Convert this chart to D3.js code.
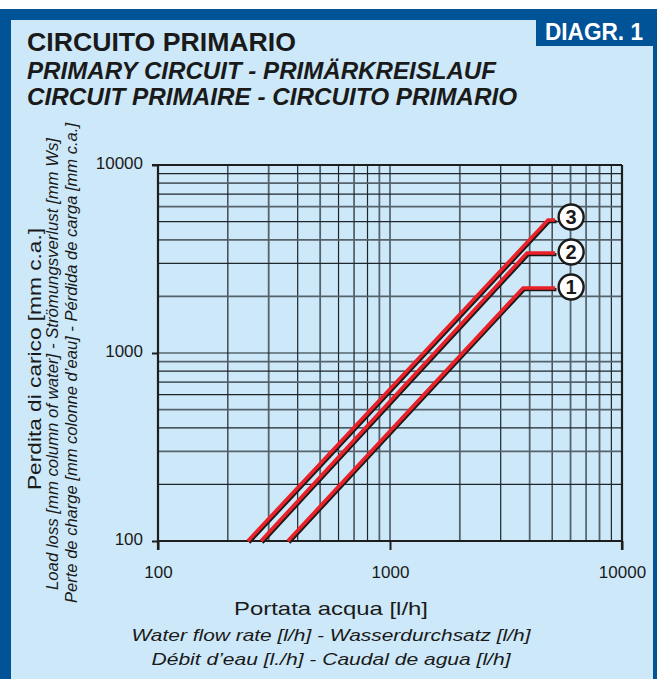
<!DOCTYPE html>
<html>
<head>
<meta charset="utf-8">
<script src="https://cdn.jsdelivr.net/npm/d3@7"></script>
<style>
  html, body { margin: 0; padding: 0; background: #ffffff; }
  svg { display: block; }
  text { font-family: "Liberation Sans", Arial, Helvetica, sans-serif; fill: #1a1a1a; }
</style>
</head>
<body>
<svg id="chart" width="657" height="679"></svg>
<script>
// ---------- data ----------
const titleLines = [
  "CIRCUITO PRIMARIO",
  "PRIMARY CIRCUIT - PRIMÄRKREISLAUF",
  "CIRCUIT PRIMAIRE - CIRCUITO PRIMARIO"
];
const diagramLabel = "DIAGR. 1";
const yTitleLines = [
  "Perdita di carico [mm c.a.]",
  "Load loss [mm column of water] - Strömungsverlust [mm Ws]",
  "Perte de charge [mm colonne d’eau] - Pérdida de carga [mm c.a.]"
];
const xTitleLines = [
  "Portata acqua [l/h]",
  "Water flow rate [l/h] - Wasserdurchsatz [l/h]",
  "Débit d’eau [l./h] - Caudal de agua [l/h]"
];
const xTickLabels = [100, 1000, 10000];
const yTickLabels = [100, 1000, 10000];
const seriesNames = ["1", "2", "3"];
// flow rate [l/h] and load loss [mm c.a.] of each curve
const flow1 = [363, 3745, 5150];
const loss1 = [100, 2218, 2218];
const flow2 = [278, 3896, 5150];
const loss2 = [100, 3404, 3404];
const flow3 = [244, 4798, 5150];
const loss3 = [100, 5097, 5097];

const series = [
  { name: seriesNames[0], pts: flow1.map((f, i) => [f, loss1[i]]) },
  { name: seriesNames[1], pts: flow2.map((f, i) => [f, loss2[i]]) },
  { name: seriesNames[2], pts: flow3.map((f, i) => [f, loss3[i]]) }
];

// ---------- layout ----------
const W = 657, H = 679;
const svg = d3.select("#chart");
const blue = "#005396", light = "#cde9f9";

svg.append("rect").attr("x", 0).attr("y", 9).attr("width", W).attr("height", H - 9).attr("fill", blue);
svg.append("rect").attr("x", 11).attr("y", 20).attr("width", 642).attr("height", H - 20).attr("fill", light);
svg.append("rect").attr("x", 536).attr("y", 9).attr("width", W - 536).attr("height", 37).attr("fill", blue);
svg.append("text").text(diagramLabel)
  .attr("x", 545).attr("y", 39.5)
  .attr("font-size", 23).attr("font-weight", "bold")
  .attr("textLength", 98).attr("lengthAdjust", "spacingAndGlyphs")
  .style("fill", "#ffffff");

// titles
const titleY = [51, 79, 105];
const titleW = [269, 469, 490];
titleLines.forEach((t, i) => {
  svg.append("text").text(t)
    .attr("x", 27).attr("y", titleY[i])
    .attr("font-size", i === 0 ? 25 : 23)
    .attr("font-weight", "bold")
    .attr("font-style", i === 0 ? "normal" : "italic")
    .attr("textLength", titleW[i]).attr("lengthAdjust", "spacingAndGlyphs");
});

// scales
const x = d3.scaleLog().domain([100, 10000]).range([158, 622]);
const y = d3.scaleLog().domain([100, 10000]).range([541, 165]);

// grid
const gridX = x.ticks();
const gridY = y.ticks();
const g = svg.append("g");
g.selectAll("line.gx").data(gridX).join("line")
  .attr("class", "gx")
  .attr("x1", d => x(d)).attr("x2", d => x(d))
  .attr("y1", y(10000)).attr("y2", y(100))
  .attr("stroke", (d, i) => i % 2 ? "#1f262b" : "#56626b")
  .attr("stroke-width", (d, i) => i % 2 ? 1.2 : 1.8);
g.selectAll("line.gy").data(gridY).join("line")
  .attr("class", "gy")
  .attr("y1", d => y(d)).attr("y2", d => y(d))
  .attr("x1", x(100)).attr("x2", x(10000))
  .attr("stroke", (d, i) => i % 2 ? "#1f262b" : "#56626b")
  .attr("stroke-width", (d, i) => i % 2 ? 1.2 : 1.8);

// axes
const axisColor = "#1e1e1e";
const xAxis = d3.axisBottom(x).tickValues(xTickLabels).tickSize(9).tickPadding(16)
  .tickFormat(d3.format("d"));
const gx = svg.append("g").attr("transform", `translate(0,${y(100)})`).call(xAxis);
gx.select(".domain").remove();
gx.selectAll(".tick line").attr("stroke", axisColor).attr("stroke-width", 2);
gx.selectAll(".tick text").attr("font-size", 17).style("fill", "#1a1a1a")
  .attr("font-family", "'Liberation Sans', Arial, sans-serif");

const yAxis = d3.axisLeft(y).tickValues(yTickLabels).tickSize(6).tickPadding(9)
  .tickFormat(d3.format("d"));
const gy = svg.append("g").attr("transform", `translate(${x(100)},0)`).call(yAxis);
gy.select(".domain").remove();
gy.selectAll(".tick line").attr("stroke", axisColor).attr("stroke-width", 2);
gy.selectAll(".tick text").attr("font-size", 17).attr("dy", "0.2em").style("fill", "#1a1a1a")
  .attr("font-family", "'Liberation Sans', Arial, sans-serif");

// frame lines
svg.append("line").attr("x1", x(100)).attr("x2", x(100)).attr("y1", y(10000)).attr("y2", y(100) + 9)
  .attr("stroke", axisColor).attr("stroke-width", 2.2);
svg.append("line").attr("x1", x(10000)).attr("x2", x(10000)).attr("y1", y(10000)).attr("y2", y(100) + 9)
  .attr("stroke", axisColor).attr("stroke-width", 2.2);
svg.append("line").attr("x1", x(100)).attr("x2", x(10000)).attr("y1", y(100)).attr("y2", y(100))
  .attr("stroke", axisColor).attr("stroke-width", 2.2);
svg.append("line").attr("x1", x(100) - 6).attr("x2", x(10000)).attr("y1", y(10000)).attr("y2", y(10000))
  .attr("stroke", axisColor).attr("stroke-width", 2.2);

// curves
const line = d3.line().x(d => x(d[0])).y(d => y(d[1]));
const cg = svg.append("g");
series.forEach(s => {
  cg.append("path").attr("d", line(s.pts)).attr("fill", "none")
    .attr("stroke", "#1a1a1a").attr("stroke-width", 3.2)
    .attr("transform", "translate(1.3,1.6)");
  cg.append("path").attr("d", line(s.pts)).attr("fill", "none")
    .attr("stroke", "#ea2128").attr("stroke-width", 3.6);
});

// labels
series.forEach((s, i) => {
  const last = s.pts[s.pts.length - 1];
  const cx = x(last[0]) + 16, cy = y(last[1]) - (i === 2 ? 3 : 1);
  svg.append("circle").attr("cx", cx).attr("cy", cy).attr("r", 12.5)
    .attr("fill", "#ffffff").attr("stroke", "#1a1a1a").attr("stroke-width", 2.4);
  svg.append("text").text(s.name).attr("x", cx).attr("y", cy + 7)
    .attr("text-anchor", "middle").attr("font-size", 20).attr("font-weight", "bold");
});

// y titles (rotated)
const yTitleX = [41, 58, 77];
const yTitleC = [359, 364, 363];
const yTitleL = [262, 452, 480];
yTitleLines.forEach((t, i) => {
  svg.append("text").text(t)
    .attr("transform", `translate(${yTitleX[i]},${yTitleC[i]}) rotate(-90)`)
    .attr("text-anchor", "middle")
    .attr("font-size", i === 0 ? 19 : 16)
    .attr("font-style", i === 0 ? "normal" : "italic")
    .attr("textLength", yTitleL[i]).attr("lengthAdjust", "spacingAndGlyphs");
});

// x titles
const xTitleY = [615, 641, 665];
const xTitleL = [194, 399, 359];
xTitleLines.forEach((t, i) => {
  svg.append("text").text(t)
    .attr("x", 331).attr("y", xTitleY[i])
    .attr("text-anchor", "middle")
    .attr("font-size", i === 0 ? 19 : 17)
    .attr("font-style", i === 0 ? "normal" : "italic")
    .attr("textLength", xTitleL[i]).attr("lengthAdjust", "spacingAndGlyphs");
});
</script>
</body>
</html>
